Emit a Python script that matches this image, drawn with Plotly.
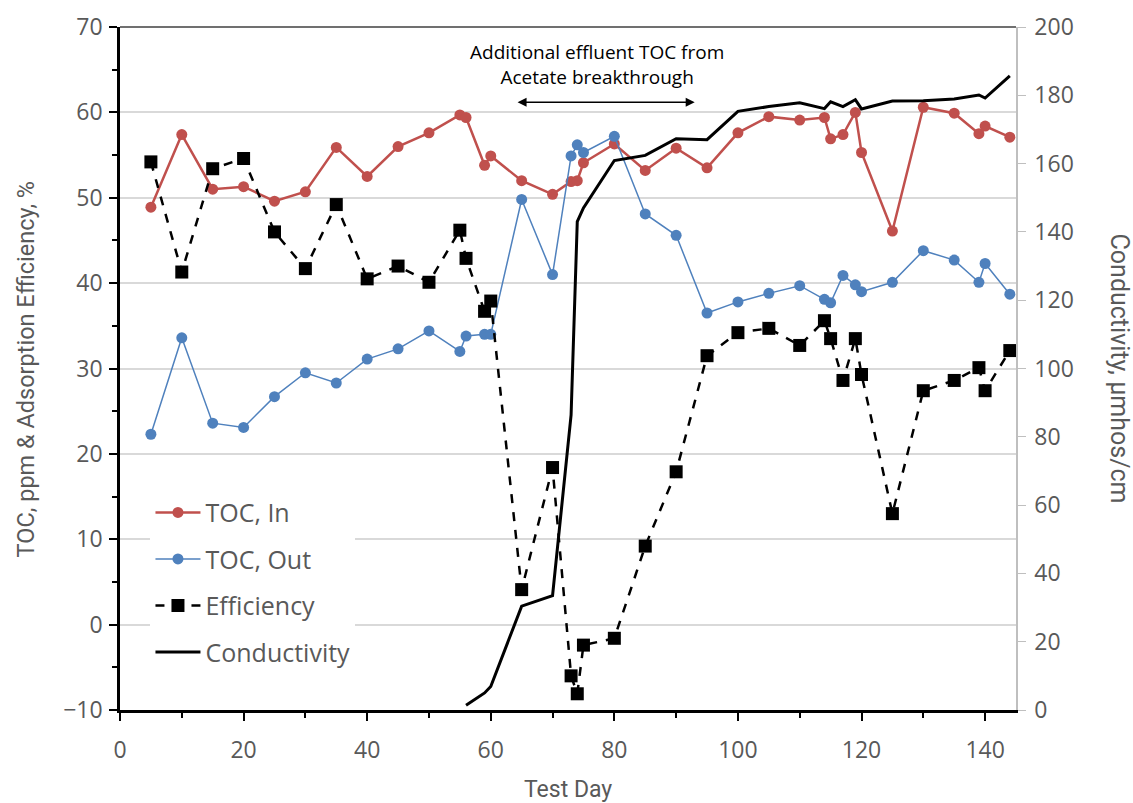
import plotly.graph_objects as go

days = [5, 10, 15, 20, 25, 30, 35, 40, 45, 50, 55, 56, 59, 60, 65, 70, 73, 74, 75, 80,
        85, 90, 95, 100, 105, 110, 114, 115, 117, 119, 120, 125, 130, 135, 139, 140, 144]
toc_in = [48.9, 57.4, 51.0, 51.3, 49.6, 50.7, 55.9, 52.5, 56.0, 57.6, 59.7, 59.4, 53.8, 54.9,
          52.0, 50.4, 51.9, 52.0, 54.1, 56.3, 53.2, 55.8, 53.5, 57.6, 59.5, 59.1, 59.4, 56.9,
          57.4, 60.0, 55.3, 46.1, 60.6, 59.9, 57.5, 58.4, 57.1]
toc_out = [22.3, 33.6, 23.6, 23.1, 26.7, 29.5, 28.3, 31.1, 32.3, 34.4, 32.0, 33.8, 34.0, 34.0,
           49.8, 41.0, 54.9, 56.2, 55.3, 57.2, 48.1, 45.6, 36.5, 37.8, 38.8, 39.7, 38.1, 37.7,
           40.9, 39.8, 39.0, 40.1, 43.8, 42.7, 40.1, 42.3, 38.7]
efficiency = [54.2, 41.3, 53.4, 54.6, 46.0, 41.7, 49.2, 40.5, 42.0, 40.1, 46.2, 42.9, 36.7, 37.9,
              4.1, 18.4, -6.0, -8.1, -2.4, -1.6, 9.2, 17.9, 31.5, 34.2, 34.7, 32.7, 35.6, 33.5,
              28.6, 33.5, 29.3, 13.0, 27.4, 28.6, 30.1, 27.4, 32.1]
cond_days = [56, 59, 60, 65, 70, 73, 74, 75, 80, 85, 90, 95, 100, 105, 110, 114, 115, 117, 119,
             120, 125, 130, 135, 139, 140, 144]
conductivity = [1.4, 5.0, 6.9, 30.4, 33.5, 86.4, 143.0, 147.0, 160.9, 162.4, 167.3, 167.0, 175.3,
                176.7, 177.8, 176.1, 178.1, 176.7, 178.7, 176.0, 178.3, 178.4, 178.9, 180.1,
                179.2, 185.7]

RED = "#C0504D"
BLUE = "#4F81BD"
GREY_TXT = "#595959"
FAM = "Open Sans, Lato, sans-serif"
TICK_FONT = dict(family=FAM, size=23, color=GREY_TXT)
TITLE_FAM = "Roboto, Open Sans, sans-serif"

fig = go.Figure()
fig.add_trace(go.Scatter(x=days, y=toc_in, name="TOC, In", mode="lines+markers",
                         line=dict(color=RED, width=2.5), marker=dict(color=RED, size=11),
                         legendgroup="a"))
fig.add_trace(go.Scatter(x=days, y=toc_out, name="TOC, Out", mode="lines+markers",
                         line=dict(color=BLUE, width=1.5), marker=dict(color=BLUE, size=11),
                         legendgroup="b"))
fig.add_trace(go.Scatter(x=days, y=efficiency, name="Efficiency", mode="lines+markers",
                         line=dict(color="black", width=2.5, dash="dash"),
                         marker=dict(color="black", size=13, symbol="square"),
                         legendgroup="c"))
fig.add_trace(go.Scatter(x=cond_days, y=conductivity, name="Conductivity", mode="lines",
                         line=dict(color="black", width=3), yaxis="y2", legendgroup="d"))

fig.update_layout(
    width=1133, height=803,
    margin=dict(l=120, r=117, t=27, b=93, autoexpand=False),
    paper_bgcolor="white", plot_bgcolor="white",
    showlegend=True,
    legend=dict(x=0.034, y=0.3226, xanchor="left", yanchor="top",
                bgcolor="white", font=dict(family=FAM, size=25, color=GREY_TXT),
                tracegroupgap=11, traceorder="grouped", itemwidth=45),
    xaxis=dict(range=[0, 145], dtick=20, tick0=0, showgrid=False, zeroline=False,
               showline=True, linecolor="black", linewidth=2.5, automargin=False,
               ticks="outside", ticklen=8, tickwidth=1.5, tickcolor="black",
               minor=dict(dtick=10, ticks="outside", ticklen=5, tickcolor="black", showgrid=False),
               tickfont=TICK_FONT, ticklabelstandoff=10),
    yaxis=dict(range=[-10, 70], dtick=10, showgrid=True, gridcolor="#D9D9D9", gridwidth=1.5,
               zeroline=False, showline=True, linecolor="black", linewidth=2.5, automargin=False,
               ticks="outside", ticklen=8, tickwidth=1.5, tickcolor="black",
               minor=dict(dtick=5, ticks="outside", ticklen=5, tickcolor="black", showgrid=False),
               tickfont=TICK_FONT, ticklabelstandoff=2),
    yaxis2=dict(range=[0, 200], dtick=20, overlaying="y", side="right", showgrid=False,
                zeroline=False, showline=True, linecolor="#BFBFBF", linewidth=1.5,
                automargin=False,
                ticks="outside", ticklen=8, tickcolor="#BFBFBF", tickfont=TICK_FONT,
                ticklabelstandoff=4),
)

fig.add_shape(type="line", xref="paper", yref="paper", x0=0, x1=1, y0=1, y1=1,
              line=dict(color="#404040", width=1.5))

fig.add_annotation(text="TOC, ppm & Adsorption Efficiency, %", xref="paper", yref="paper",
                   x=-0.105, y=0.5, xanchor="center", yanchor="middle", textangle=-90,
                   showarrow=False, font=dict(family=TITLE_FAM, size=23.5, color=GREY_TXT))
fig.add_annotation(text="Conductivity, µmhos/cm", xref="paper", yref="paper",
                   x=1.116, y=0.5, xanchor="center", yanchor="middle", textangle=90,
                   showarrow=False, font=dict(family=TITLE_FAM, size=25, color=GREY_TXT))
fig.add_annotation(text="Test Day", xref="paper", yref="paper",
                   x=0.5, y=-0.117, xanchor="center", yanchor="middle",
                   showarrow=False, font=dict(family=TITLE_FAM, size=23, color=GREY_TXT))

fig.add_annotation(text="Additional effluent TOC from<br>Acetate breakthrough",
                   x=77.2, y=65.6, xref="x", yref="y", showarrow=False,
                   font=dict(family=FAM, size=19, color="black"))
fig.add_annotation(x=93.0, y=61.2, ax=64.1, ay=61.2, xref="x", yref="y", axref="x", ayref="y",
                   text="", showarrow=True, arrowhead=2, arrowside="end+start",
                   arrowsize=1.2, arrowwidth=1.5, arrowcolor="black")

fig.write_html("out.html")
